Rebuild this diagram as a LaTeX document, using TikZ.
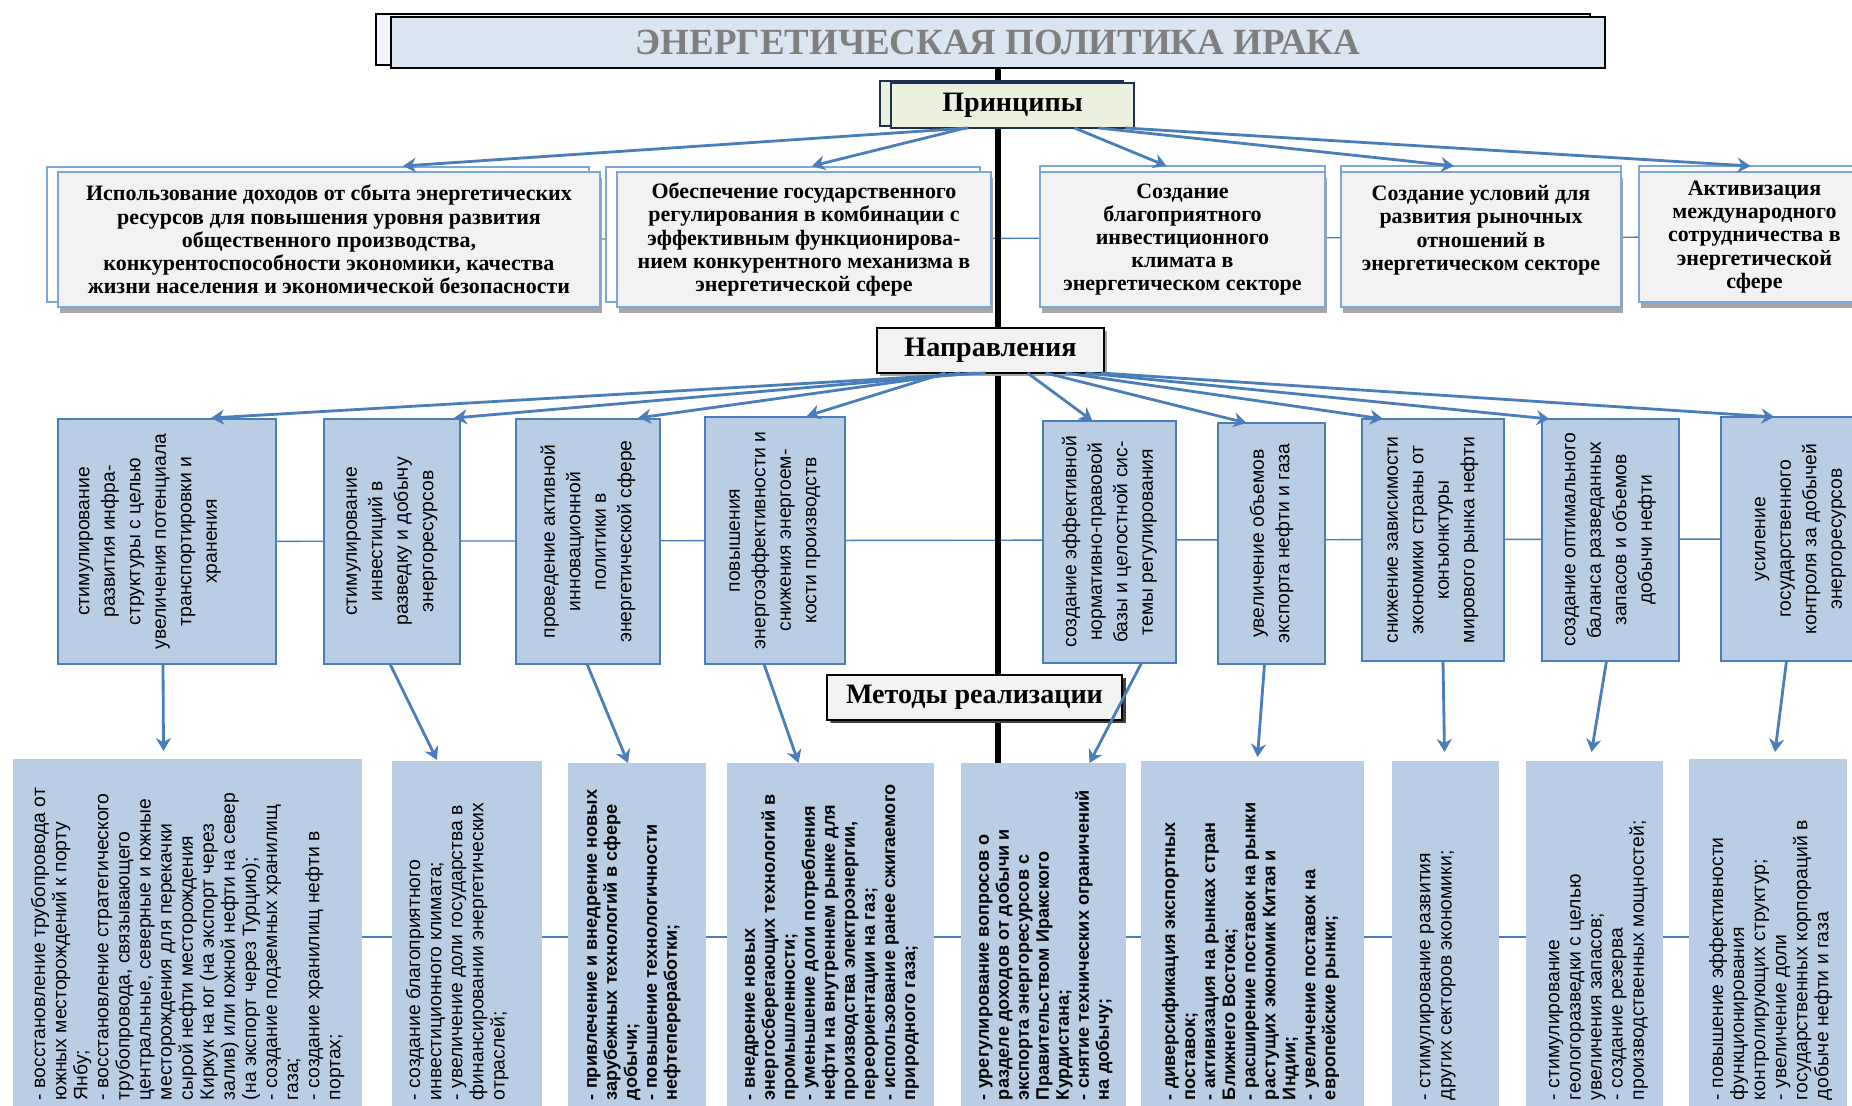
\documentclass[tikz,border=0pt]{standalone}
\usepackage{fontspec}
\setmainfont{Liberation Serif}
\newfontfamily\arialf{Liberation Sans}
\usetikzlibrary{arrows.meta, calc, shadows}

\definecolor{titlefill}{HTML}{DBE5F1}
\definecolor{titletext}{HTML}{7F7F7F}
\definecolor{prinfill}{HTML}{EBF1DE}
\definecolor{prinedge}{HTML}{1F2F4F}
\definecolor{pfill}{HTML}{F2F2F2}
\definecolor{pedge}{HTML}{7DA7D9}
\definecolor{dfill}{HTML}{B9CDE5}
\definecolor{dedge}{HTML}{4A7EBB}
\definecolor{arrblue}{HTML}{4A7EBB}
\definecolor{shgray}{HTML}{A6A6A6}

\pgfdeclarelayer{background}
\pgfsetlayers{background,main}

\begin{document}
\begin{tikzpicture}[x=0.2mm, y=-0.2mm,
every node/.style={inner sep=0pt, outer sep=0pt},
titlebox/.style={draw=black, line width=1pt, fill=titlefill, text=titletext,
  font=\bfseries\fontsize{21}{24}\selectfont,
  copy shadow={shadow xshift=-3mm, shadow yshift=0.6mm, fill=titlefill!40!white, draw=black}},
prinbox/.style={draw=prinedge, line width=1pt, fill=prinfill,
  font=\bfseries\fontsize{16}{18}\selectfont,
  copy shadow={shadow xshift=-2.2mm, shadow yshift=0.4mm, fill=prinfill, draw=prinedge}},
headbox/.style={draw=black, line width=0.8pt, fill=pfill,
  font=\bfseries\fontsize{16}{18}\selectfont,
  drop shadow={shadow xshift=0.6mm, shadow yshift=-0.6mm, fill=shgray, opacity=1}},
pbox/.style={draw=pedge, line width=0.8pt, fill=pfill, align=center,
  font=\bfseries\fontsize{12.5}{13.2}\selectfont,
  drop shadow={shadow xshift=0.4mm, shadow yshift=-1.2mm, fill=shgray, opacity=1}},
pboxl/.style={pbox, copy shadow={shadow xshift=-2.2mm, shadow yshift=1mm, fill=white, draw=pedge}},
pboxt/.style={pbox, copy shadow={shadow xshift=0mm, shadow yshift=1.2mm, fill=white, draw=pedge}},
dbox/.style={draw=dedge, line width=0.9pt, fill=dfill},
mbox/.style={fill=dfill},
dtxt/.style={rotate=90, align=center, font=\arialf\fontsize{11}{14.5}\selectfont},
mtxt/.style={rotate=90, anchor=north west, align=left, font=\arialf\fontsize{11}{12}\selectfont},
mtxtb/.style={mtxt, font=\arialf\bfseries\fontsize{10.3}{11.4}\selectfont},
arr/.style={draw=arrblue, line width=1.6pt, -{Stealth[length=2.6mm, width=3mm]}},
link/.style={draw=dedge, line width=0.8pt},
spine/.style={draw=black, line width=3.4pt}]

\useasboundingbox (0,0) rectangle (1852,1106);
\clip (0,0) rectangle (1852,1106);

% title and principles
\node[titlebox, minimum width=242.8mm, minimum height=10.2mm] (title) at (998,42.5) {ЭНЕРГЕТИЧЕСКАЯ ПОЛИТИКА ИРАКА};
\node[prinbox, minimum width=48.6mm, minimum height=9mm] (prin) at (1012.5,105.5) {Принципы};

\node[pboxl, minimum width=108.4mm, minimum height=27mm] (p1) at (329,239.5) {Использование доходов от сбыта энергетических\\ресурсов для повышения уровня развития\\общественного производства,\\конкурентоспособности экономики, качества\\жизни населения и экономической безопасности};
\node[pboxl, minimum width=74.8mm, minimum height=27mm] (p2) at (804,239.5) {Обеспечение государственного\\регулирования в комбинации с\\эффективным функционирова-\\нием конкурентного механизма в\\энергетической сфере};
\node[pboxt, minimum width=57mm, minimum height=27mm] (p3) at (1182.5,239.5) {Создание\\благоприятного\\инвестиционного\\климата в\\энергетическом секторе};
\node[pboxt, minimum width=56mm, minimum height=27mm] (p4) at (1481,239.5) {Создание условий для\\развития рыночных\\отношений в\\энергетическом секторе\\\mbox{}};
\node[pboxt, minimum width=46.2mm, minimum height=26mm] (p5) at (1754.5,237) {Активизация\\международного\\сотрудничества в\\энергетической\\сфере};

% directions
\node[headbox, minimum width=45.4mm, minimum height=9mm] (nap) at (990.5,350.5) {Направления};

\node[dbox, minimum width=43.6mm, minimum height=49mm] (d1) at (167,541.5) {};
\node[dbox, minimum width=27.2mm, minimum height=49mm] (d2) at (392,541.5) {};
\node[dbox, minimum width=28.8mm, minimum height=49mm] (d3) at (588,541.5) {};
\node[dbox, minimum width=28mm, minimum height=49.4mm] (d4) at (775,540.5) {};
\node[dbox, minimum width=26.6mm, minimum height=48.4mm] (d5) at (1109.5,542) {};
\node[dbox, minimum width=21.4mm, minimum height=48.2mm] (d6) at (1271.5,543.5) {};
\node[dbox, minimum width=28.4mm, minimum height=48.4mm] (d7) at (1433,540) {};
\node[dbox, minimum width=27.4mm, minimum height=48.4mm] (d8) at (1610.5,540) {};
\node[dbox, minimum width=31.8mm, minimum height=48.8mm] (d9) at (1800.5,539) {};

\node[dtxt] (d1t) at ([xshift=-3.4mm]d1.center) {стимулирование\\развития инфра-\\структуры с целью\\увеличения потенциала\\транспортировки и\\хранения};
\node[dtxt] (d2t) at (d2) {стимулирование\\инвестиций в\\разведку и добычу\\энергоресурсов};
\node[dtxt] (d3t) at (d3) {проведение активной\\инновационной\\политики в\\энергетической сфере};
\node[dtxt] (d4t) at (d4) {повышения\\энергоэффективности и\\снижения энергоем-\\кости производств};
\node[dtxt] (d5t) at (d5) {создание эффективной\\нормативно-правовой\\базы и целостной сис-\\темы регулирования};
\node[dtxt] (d6t) at (d6) {увеличение объемов\\экспорта нефти и газа};
\node[dtxt] (d7t) at (d7) {снижение зависимости\\экономики страны от\\конъюнктуры\\мирового рынка нефти};
\node[dtxt] (d8t) at (d8) {создание оптимального\\баланса разведанных\\запасов и объемов\\добычи нефти};
\node[dtxt] (d9t) at (d9) {усиление\\государственного\\контроля за добычей\\энергоресурсов};

% methods
\node[headbox, minimum width=59mm, minimum height=9mm, drop shadow={shadow xshift=0.7mm, shadow yshift=-0.7mm, fill=black!75, opacity=1}] (met) at (974.5,697.5) {Методы реализации};

\node[mbox, minimum width=69.8mm, minimum height=71.2mm] (m1) at (187.5,937) {};
\node[mbox, minimum width=30mm, minimum height=70.8mm] (m2) at (467,938) {};
\node[mbox, minimum width=27.6mm, minimum height=70.4mm] (m3) at (637,939) {};
\node[mbox, minimum width=41.4mm, minimum height=70.4mm] (m4) at (830.5,939) {};
\node[mbox, minimum width=33mm, minimum height=70.4mm] (m5) at (1043.5,939) {};
\node[mbox, minimum width=44.6mm, minimum height=70.8mm] (m6) at (1252.5,938) {};
\node[mbox, minimum width=21.4mm, minimum height=70.8mm] (m7) at (1445.5,938) {};
\node[mbox, minimum width=27.4mm, minimum height=70.8mm] (m8) at (1594.5,938) {};
\node[mbox, minimum width=31.6mm, minimum height=71.2mm] (m9) at (1768,937) {};

\node[mtxt] (m1t) at ([xshift=3.6mm, yshift=3mm]m1.south west) {- восстановление трубопровода от\\южных месторождений к порту\\Янбу;\\- восстановление стратегического\\трубопровода, связывающего\\центральные, северные и южные\\месторождения для перекачки\\сырой нефти месторождения\\Киркук на юг (на экспорт через\\залив) или южной нефти на север\\(на экспорт через Турцию);\\- создание подземных хранилищ\\газа;\\- создание хранилищ нефти в\\портах;};
\node[mtxt] (m2t) at ([xshift=2.8mm, yshift=3mm]m2.south west) {- создание благоприятного\\инвестиционного климата;\\- увеличение доли государства в\\финансировании энергетических\\отраслей;};
\node[mtxtb] (m3t) at ([xshift=3.8mm, yshift=3mm]m3.south west) {- привлечение и внедрение новых\\зарубежных технологий в сфере\\добычи;\\- повышение технологичности\\нефтепереработки;};
\node[mtxtb] (m4t) at ([xshift=3.6mm, yshift=3mm]m4.south west) {- внедрение новых\\энергосберегающих технологий в\\промышленности;\\- уменьшение доли потребления\\нефти на внутреннем рынке для\\производства электроэнергии,\\переориентации на газ;\\- использование ранее сжигаемого\\природного газа;};
\node[mtxtb] (m5t) at ([xshift=3.6mm, yshift=3mm]m5.south west) {- урегулирование вопросов о\\разделе доходов от добычи и\\экспорта энергоресурсов с\\Правительством Иракского\\Курдистана;\\- снятие технических ограничений\\на добычу;};
\node[mtxtb] (m6t) at ([xshift=4.2mm, yshift=3mm]m6.south west) {- диверсификация экспортных\\поставок;\\- активизация на рынках стран\\Ближнего Востока;\\- расширение поставок на рынки\\растущих экономик Китая и\\Индии;\\- увеличение поставок на\\европейские рынки;};
\node[mtxt] (m7t) at ([xshift=5.6mm, yshift=3mm]m7.south west) {- стимулирование развития\\других секторов экономики;};
\node[mtxt] (m8t) at ([xshift=4.6mm, yshift=3mm]m8.south west) {- стимулирование\\геологоразведки с целью\\увеличения запасов;\\- создание резерва\\производственных мощностей;};
\node[mtxt] (m9t) at ([xshift=4mm, yshift=3mm]m9.south west) {- повышение эффективности\\функционирования\\контролирующих структур;\\- увеличение доли\\государственных корпораций в\\добыче нефти и газа};

% thin row links and the black spine, behind the boxes
\begin{pgfonlayer}{background}
\draw[link] (p1) -- (p5);
\draw[link] (d1) -- (d9);
\draw[link] (m1) -- (m9);
\draw[spine] (title.south) -- ($(title.south |- m5.north)+(0,4)$);
\end{pgfonlayer}

% principles arrows
\draw[arr] ($(prin.south)+(-44,0)$) -- ($(p1.north)+(74,-6)$);
\draw[arr] ($(prin.south)+(-47,0)$) -- ($(p2.north)+(8,-6)$);
\draw[arr] ($(prin.south)+(62,0)$) -- ($(p3.north)+(-16,-6)$);
\draw[arr] ($(prin.south)+(86,0)$) -- ($(p4.north)+(-27,-6)$);
\draw[arr] ($(prin.south)+(113,0)$) -- ($(p5.north)+(-4,-6)$);

% directions arrows
\draw[arr] ($(nap.south)+(-5,0)$) -- ($(d1.north)+(44,-1)$);
\draw[arr] ($(nap.south)+(-15,0)$) -- ($(d2.north)+(62,-1)$);
\draw[arr] ($(nap.south)+(-30,0)$) -- ($(d3.north)+(50,-1)$);
\draw[arr] ($(nap.south)+(-45,0)$) -- ($(d4.north)+(32,-1)$);
\draw[arr] ($(nap.south)+(37,0)$) -- ($(d5.north)+(-17,0)$);
\draw[arr] ($(nap.south)+(55,0)$) -- ($(d6.north)+(-25,0)$);
\draw[arr] ($(nap.south)+(75,0)$) -- ($(d7.north)+(-50,0)$);
\draw[arr] ($(nap.south)+(95,0)$) -- ($(d8.north)+(-61,0)$);
\draw[arr] ($(nap.south)+(110,0)$) -- ($(d9.north)+(-26,0)$);

% methods arrows
\draw[arr] ($(d1.south)+(-4,0)$) -- ($(m1.north)+(-24,-8)$);
\draw[arr] ($(d2.south)+(-2,0)$) -- ($(m2.north)+(-30,-1)$);
\draw[arr] ($(d3.south)+(-1,0)$) -- ($(m3.north)+(-9,0)$);
\draw[arr] ($(d4.south)+(-11,0)$) -- ($(m4.north)+(-32,0)$);
\draw[arr] ($(d5.south)+(32,0)$) -- ($(m5.north)+(46,0)$);
\draw[arr] ($(d6.south)+(-7,0)$) -- ($(m6.north)+(5,-4)$);
\draw[arr] ($(d7.south)+(10,0)$) -- ($(m7.north)+(-1,-9)$);
\draw[arr] ($(d8.south)+(-4,0)$) -- ($(m8.north)+(-3,-9)$);
\draw[arr] ($(d9.south)+(-14,0)$) -- ($(m9.north)+(7,-7)$);
\end{tikzpicture}
\end{document}
